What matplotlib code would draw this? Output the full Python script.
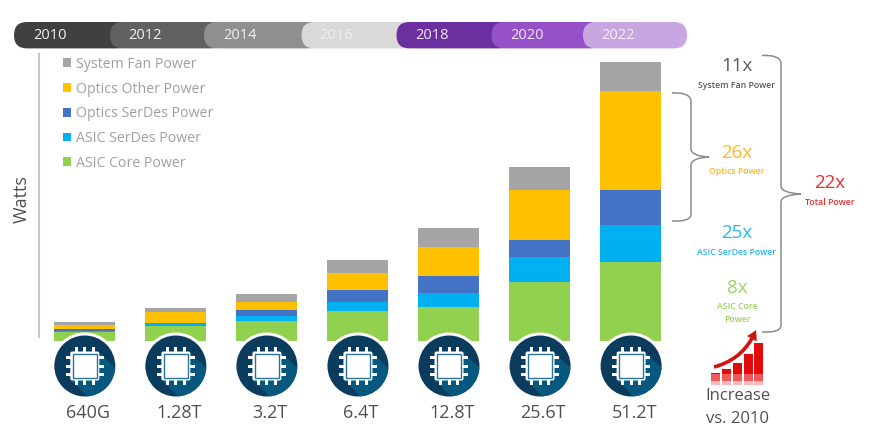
import matplotlib
matplotlib.use('Agg')
import matplotlib.pyplot as plt
from matplotlib.patches import Circle, FancyBboxPatch, FancyArrowPatch, PathPatch, Polygon, Rectangle
from matplotlib.path import Path
from matplotlib.transforms import ScaledTranslation

plt.rcParams['font.family'] = ['Open Sans', 'DejaVu Sans']

W, H = 873, 443

# chart data, heights
capacity = ['640G', '1.28T', '3.2T', '6.4T', '12.8T', '25.6T', '51.2T']
asic_core = [9, 15, 20, 30, 33.7, 59.3, 79]
asic_serdes = [1.5, 2.6, 5.3, 9, 14.6, 24.7, 37]
optics_serdes = [1.5, 0.7, 5.7, 12.5, 16.4, 17, 35]
optics_other = [4.5, 10.7, 8.5, 16.5, 29.3, 50, 99]
system_fan = [2.5, 4, 8, 13, 19.3, 23.3, 29]

years = ['2010', '2012', '2014', '2016', '2018', '2020', '2022']
year_colors = ['#404040', '#616161', '#8f8f8f', '#d9d9d9', '#6b2fa0', '#9650c8', '#c8a6e2']
year_text = ['#f2f2f2', '#f2f2f2', '#f2f2f2', '#efefef', '#f2e8fa', '#f2e8fa', '#f6eefc']
year_starts = [14, 110, 204, 301.5, 396.5, 491.5, 583]
year_labels_x = [50, 145, 239.5, 336, 432, 527, 618]

series = [
    ('ASIC Core Power', asic_core, '#92d050'),
    ('ASIC SerDes Power', asic_serdes, '#00b0f0'),
    ('Optics SerDes Power', optics_serdes, '#4472c4'),
    ('Optics Other Power', optics_other, '#ffc000'),
    ('System Fan Power', system_fan, '#a5a5a5'),
]

# big multiplier, small caption, colour, x, y of big, y of caption
callouts = [
    ('11x', 'System Fan Power', '#595959', 737, 66, 85),
    ('26x', 'Optics Power', '#fdb827', 737, 153, 172),
    ('25x', 'ASIC SerDes Power', '#29b5f2', 737, 233, 252),
    ('8x', 'ASIC Core\nPower', '#9bd45c', 737, 288, 313),
    ('22x', 'Total Power', '#e5302e', 830, 183, 202),
]

icon_bars_x = [711, 722, 733, 744, 754]
icon_bars_top = [373, 369, 363, 354, 343]


def px_rect(x0, y0, x1, y1):
    return [x0 / W, 1 - y1 / H, (x1 - x0) / W, (y1 - y0) / H]


def draw_chip(ov, cx, cy):
    ov.add_patch(Circle((cx, cy), 33.5, fc='white', ec='none', zorder=2))
    disc = Circle((cx, cy), 30.5, fc='#0b3c5d', ec='none', zorder=3)
    ov.add_patch(disc)
    # long shadow going to the lower right
    shadow = Polygon([(cx + 14, cy - 14), (cx + 45, cy + 17), (cx + 17, cy + 45), (cx - 14, cy + 14)],
                     fc='#07587f', ec='none', zorder=4)
    ov.add_patch(shadow)
    shadow.set_clip_path(disc)
    for off in (-8.5, 0, 8.5):
        for sx, sy, w, h in [(cx + off - 1.5, cy - 19, 3, 38), (cx - 19, cy + off - 1.5, 38, 3)]:
            ov.add_patch(Rectangle((sx, sy), w, h, fc='white', ec='none', zorder=5))
    ov.add_patch(FancyBboxPatch((cx - 14.5, cy - 14.5), 29, 29, boxstyle='round,pad=0,rounding_size=2',
                                fc='white', ec='none', zorder=6))
    ov.add_patch(Rectangle((cx - 12, cy - 12), 24, 24, fc='white', ec='#2a7397', lw=1.0, zorder=7))


def draw_bracket(ov, x0, x1, x_tip, y0, y_tip, y1):
    verts = [(x0, y0), (x1 - 2, y0 - 1), (x1, y0 + 7),
             (x1, y_tip - 8),
             (x1, y_tip - 1), (x_tip, y_tip),
             (x1, y_tip + 1), (x1, y_tip + 8),
             (x1, y1 - 7),
             (x1, y1 + 1), (x0, y1)]
    codes = [Path.MOVETO, Path.CURVE3, Path.CURVE3,
             Path.LINETO,
             Path.CURVE3, Path.CURVE3,
             Path.CURVE3, Path.CURVE3,
             Path.LINETO,
             Path.CURVE3, Path.CURVE3]
    ov.add_patch(PathPatch(Path(verts, codes), fc='none', ec='#8c8c8c', lw=1.1))


def main():
    fig = plt.figure(figsize=(W / 100, H / 100), dpi=100, facecolor='white')

    # stacked bars
    ax = fig.add_axes(px_rect(38.5, 54, 680, 341))
    x = list(range(len(capacity)))
    bottom = [0] * len(capacity)
    handles = []
    for name, values, color in series:
        h = ax.bar(x, values, 0.67, bottom=bottom, color=color, label=name)
        handles.append(h)
        bottom = [b + v for b, v in zip(bottom, values)]

    ax.set_xlim(-0.505, 6.54)
    ax.set_ylim(0, 287)
    ax.set_xticks(x, capacity)
    ax.set_yticks([])
    ax.tick_params(axis='x', length=0, pad=45, labelsize=13, labelcolor='#505050')
    # the labels sit a little right of the bar centres
    shift = ScaledTranslation(2.5 / 72, 0, fig.dpi_scale_trans)
    for lab in ax.get_xticklabels():
        lab.set_transform(lab.get_transform() + shift)
    for s in ('top', 'right', 'bottom'):
        ax.spines[s].set_visible(False)
    ax.spines['left'].set_color('#c8c8c8')
    ax.spines['left'].set_linewidth(1.5)
    ax.spines['left'].set_bounds(4, 287)
    ax.set_ylabel('Watts', fontsize=13, color='#505050')
    ax.yaxis.set_label_coords(-0.012, 0.495)

    ax.legend(handles[::-1], [s[0] for s in series[::-1]], loc='upper left',
              bbox_to_anchor=(0.038, 0.99), frameon=False, fontsize=10.2, labelcolor='#a0a0a0',
              handlelength=0.58, handleheight=0.58, handletextpad=0.32, labelspacing=0.685,
              borderpad=0, borderaxespad=0)

    # everything else sits on a pixel overlay
    ov = fig.add_axes([0, 0, 1, 1], facecolor='none')
    ov.set_xlim(0, W)
    ov.set_ylim(H, 0)
    ov.axis('off')

    # timeline pills
    for i, (yr, col, tc, x0, lx) in enumerate(zip(years, year_colors, year_text, year_starts, year_labels_x)):
        x1 = year_starts[i + 1] + 20 if i < len(years) - 1 else 687
        ov.add_patch(FancyBboxPatch((x0, 22), x1 - x0, 26.4, boxstyle='round,pad=0,rounding_size=13',
                                    fc=col, ec='none', zorder=1 + i * 0.01))
        ov.text(lx, 35.2, yr, ha='center', va='center', fontsize=10.5, color=tc, zorder=2)

    for i in x:
        draw_chip(ov, 84.8 + 91.05 * i, 366)

    for big, small, col, tx, y_big, y_small in callouts:
        ov.text(tx, y_big, big, ha='center', va='center', fontsize=13.5, color=col)
        ov.text(tx, y_small, small, ha='center', va='center', fontsize=6.3, color=col,
                fontweight='semibold', linespacing=1.5)

    draw_bracket(ov, 672, 691, 709, 93, 157, 221)
    draw_bracket(ov, 762, 781, 801, 55.5, 194, 332)

    # little red growth icon
    for bx, top in zip(icon_bars_x, icon_bars_top):
        ov.add_patch(Rectangle((bx, top), 9, 381 - top, fc='#e00b0b', ec='none'))
        ov.add_patch(Rectangle((bx, 374 if top < 374 else top), 9, 7, fc='#ee5a5a', ec='none'))
        ov.add_patch(Rectangle((bx, 381), 9, 4, fc='#f8b8b8', ec='none'))
    ov.add_patch(FancyArrowPatch((714, 367), (756, 330), connectionstyle='arc3,rad=0.25',
                                 arrowstyle='simple,head_length=7,head_width=8,tail_width=2.6',
                                 fc='#d01414', ec='none', shrinkA=0, shrinkB=0, mutation_scale=1))

    ov.text(738, 396, 'Increase', ha='center', va='center', fontsize=12, color='#505050')
    ov.text(738, 419, 'vs. 2010', ha='center', va='center', fontsize=12, color='#505050')

    fig.savefig('out.png', dpi=100)


if __name__ == '__main__':
    main()
